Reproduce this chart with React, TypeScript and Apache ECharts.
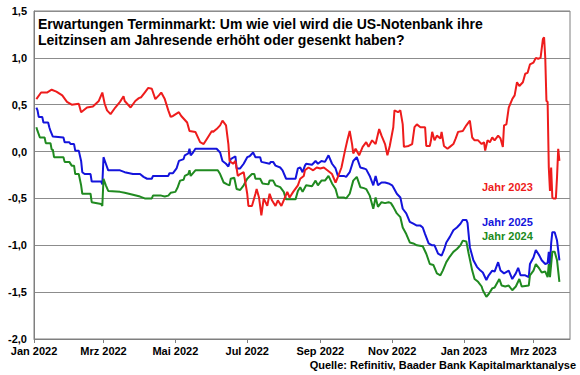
import React, { useEffect, useRef } from "react";
import * as echarts from "echarts";

// [days since 2022-01-01, expected change in percentage points]
const red2023: [number, number][] = [
  [2,0.56],[6,0.63],[11,0.63],[15,0.66],[19,0.64],[24,0.60],[28,0.53],[32,0.50],[38,0.51],[40,0.42],[45,0.47],[50,0.48],[55,0.54],[58,0.63],[60,0.51],[62,0.44],[65,0.40],[69,0.47],[73,0.53],[76,0.59],[77,0.54],[82,0.47],[86,0.54],[89,0.57],[91,0.58],[94,0.63],[97,0.68],[100,0.67],[103,0.56],[106,0.60],[108,0.63],[111,0.56],[114,0.44],[116,0.37],[118,0.38],[123,0.42],[125,0.38],[130,0.31],[132,0.22],[137,0.21],[141,0.10],[144,0.08],[147,0.14],[151,0.22],[152,0.21],[155,0.24],[158,0.28],[160,0.33],[163,0.28],[165,0.08],[166,-0.10],[169,-0.13],[171,-0.10],[173,-0.26],[175,-0.24],[178,-0.22],[181,-0.45],[182,-0.58],[185,-0.58],[188,-0.45],[189,-0.40],[191,-0.49],[193,-0.68],[195,-0.50],[198,-0.58],[200,-0.45],[202,-0.52],[205,-0.58],[207,-0.52],[210,-0.58],[212,-0.52],[215,-0.43],[217,-0.49],[220,-0.43],[224,-0.36],[226,-0.29],[229,-0.26],[230,-0.20],[233,-0.17],[237,-0.20],[240,-0.17],[243,-0.18],[246,-0.17],[249,-0.20],[253,-0.24],[256,-0.33],[258,-0.27],[261,-0.17],[264,0.01],[266,0.12],[268,0.22],[270,0.08],[271,-0.02],[273,0.03],[276,-0.04],[279,0.05],[282,0.10],[284,0.05],[287,0.12],[290,0.08],[293,0.24],[295,0.17],[298,0.08],[300,-0.04],[302,0.06],[305,0.26],[306,0.44],[309,0.42],[311,0.44],[313,0.29],[314,0.05],[318,0.06],[321,0.08],[323,0.26],[325,0.29],[328,0.26],[332,0.26],[333,0.06],[336,0.06],[337,0.12],[338,0.21],[340,0.12],[342,0.17],[345,0.14],[346,0.21],[348,0.06],[351,0.03],[353,0.05],[356,0.08],[358,0.14],[360,0.21],[364,0.22],[367,0.28],[370,0.33],[372,0.15],[374,0.12],[377,0.12],[380,0.08],[382,0.10],[383,0.01],[385,0.12],[387,0.10],[389,0.15],[391,0.12],[394,0.17],[396,0.14],[398,0.05],[399,0.28],[401,0.29],[403,0.47],[406,0.56],[408,0.60],[410,0.74],[412,0.70],[415,0.74],[417,0.83],[419,0.84],[421,0.93],[424,0.95],[426,1.00],[428,0.99],[430,1.00],[432,1.20],[433,1.22],[434,1.00],[435,0.54],[436,0.53],[437,-0.17],[438,-0.42],[439,-0.17],[440,-0.49],[441,-0.50],[443,-0.50],[444,-0.27],[445,0.03],[446,-0.10]
];

const blue2025: [number, number][] = [
  [2,0.47],[3,0.44],[4,0.37],[7,0.37],[8,0.31],[12,0.31],[13,0.26],[14,0.22],[16,0.16],[25,0.15],[26,0.10],[30,0.10],[31,0.08],[34,0.08],[35,0.01],[38,0.01],[40,-0.10],[41,-0.22],[43,-0.24],[48,-0.24],[49,-0.32],[57,-0.32],[58,-0.35],[59,-0.06],[61,-0.13],[63,-0.20],[73,-0.20],[77,-0.22],[84,-0.24],[90,-0.24],[93,-0.27],[96,-0.29],[100,-0.29],[101,-0.26],[114,-0.26],[115,-0.23],[118,-0.23],[121,-0.18],[123,-0.10],[127,-0.08],[128,-0.04],[131,-0.02],[132,0.03],[133,-0.04],[135,-0.01],[137,0.03],[155,0.03],[158,-0.01],[160,-0.10],[163,-0.13],[165,-0.16],[167,-0.08],[171,-0.05],[172,-0.18],[175,-0.18],[178,-0.13],[181,-0.06],[183,-0.05],[186,-0.01],[188,-0.06],[192,-0.06],[193,-0.11],[200,-0.13],[201,-0.11],[203,-0.11],[205,-0.15],[209,-0.17],[211,-0.20],[214,-0.29],[222,-0.29],[224,-0.18],[226,-0.17],[228,-0.22],[230,-0.15],[231,-0.13],[236,-0.14],[239,-0.10],[241,-0.13],[244,-0.10],[247,-0.11],[250,-0.04],[253,-0.13],[256,-0.18],[258,-0.26],[263,-0.26],[265,-0.27],[268,-0.22],[271,-0.10],[274,-0.06],[277,-0.17],[280,-0.18],[282,-0.19],[285,-0.26],[288,-0.36],[290,-0.26],[292,-0.36],[295,-0.33],[298,-0.33],[301,-0.34],[304,-0.36],[305,-0.38],[308,-0.45],[311,-0.49],[313,-0.61],[316,-0.66],[319,-0.75],[322,-0.77],[325,-0.79],[328,-0.79],[330,-0.81],[332,-0.88],[335,-0.98],[338,-1.00],[340,-1.00],[343,-1.09],[346,-1.11],[348,-1.05],[350,-0.97],[353,-0.91],[356,-0.84],[359,-0.81],[362,-0.77],[364,-0.73],[367,-0.73],[368,-0.76],[370,-1.02],[373,-1.16],[376,-1.23],[379,-1.27],[381,-1.29],[384,-1.37],[386,-1.32],[389,-1.27],[391,-1.28],[394,-1.18],[396,-1.27],[399,-1.30],[403,-1.27],[406,-1.36],[409,-1.30],[411,-1.24],[413,-1.32],[417,-1.32],[420,-1.34],[421,-1.20],[424,-1.13],[426,-1.05],[429,-1.11],[431,-1.16],[434,-1.20],[436,-1.19],[437,-1.07],[438,-1.22],[439,-0.98],[440,-0.86],[442,-0.86],[444,-0.95],[446,-1.16]
];

const green2024: [number, number][] = [
  [2,0.26],[3,0.22],[5,0.15],[9,0.15],[10,0.09],[14,0.09],[15,0.02],[16,0.02],[17,-0.06],[25,-0.06],[26,-0.11],[30,-0.11],[32,-0.15],[34,-0.15],[35,-0.24],[38,-0.24],[40,-0.36],[41,-0.45],[48,-0.45],[49,-0.54],[57,-0.56],[58,-0.58],[59,-0.29],[61,-0.36],[63,-0.42],[73,-0.43],[77,-0.44],[84,-0.46],[90,-0.48],[94,-0.50],[100,-0.50],[101,-0.47],[108,-0.47],[111,-0.48],[114,-0.47],[116,-0.44],[120,-0.43],[122,-0.38],[124,-0.31],[127,-0.30],[128,-0.26],[131,-0.24],[132,-0.20],[133,-0.26],[135,-0.23],[137,-0.20],[156,-0.20],[158,-0.24],[161,-0.33],[164,-0.35],[166,-0.36],[167,-0.29],[170,-0.28],[172,-0.40],[175,-0.41],[178,-0.36],[181,-0.29],[185,-0.24],[187,-0.24],[188,-0.29],[192,-0.29],[194,-0.34],[199,-0.35],[200,-0.31],[203,-0.31],[205,-0.36],[209,-0.38],[212,-0.43],[214,-0.51],[222,-0.51],[224,-0.42],[226,-0.38],[228,-0.43],[231,-0.36],[236,-0.37],[239,-0.31],[241,-0.36],[244,-0.31],[247,-0.31],[250,-0.26],[253,-0.34],[256,-0.40],[258,-0.49],[263,-0.49],[265,-0.50],[268,-0.45],[271,-0.31],[274,-0.27],[277,-0.38],[280,-0.39],[282,-0.40],[285,-0.47],[288,-0.61],[290,-0.49],[292,-0.59],[295,-0.54],[298,-0.55],[301,-0.54],[303,-0.55],[305,-0.59],[308,-0.66],[311,-0.70],[313,-0.81],[316,-0.88],[319,-0.97],[322,-0.98],[325,-1.00],[330,-1.01],[333,-1.09],[336,-1.20],[339,-1.21],[342,-1.30],[345,-1.32],[347,-1.27],[350,-1.18],[353,-1.12],[356,-1.07],[359,-1.04],[362,-1.00],[364,-0.95],[367,-0.96],[369,-1.09],[372,-1.27],[374,-1.36],[377,-1.39],[380,-1.44],[381,-1.48],[384,-1.55],[386,-1.52],[389,-1.46],[391,-1.45],[395,-1.36],[397,-1.43],[400,-1.44],[403,-1.43],[406,-1.48],[409,-1.44],[412,-1.36],[414,-1.44],[420,-1.43],[421,-1.32],[424,-1.27],[426,-1.20],[429,-1.25],[431,-1.29],[434,-1.28],[436,-1.34],[437,-1.20],[438,-1.34],[440,-1.07],[442,-1.07],[444,-1.16],[446,-1.39]
];

// x-axis ticks: days since 2022-01-01 and their labels
const xTickDays = [0, 59, 120, 181, 243, 304, 365, 424];
const xTickLabels = ["Jan 2022", "Mrz 2022", "Mai 2022", "Jul 2022", "Sep 2022", "Nov 2022", "Jan 2023", "Mrz 2023"];
const xMaxDay = 455;

const yMin = -2;
const yMax = 1.5;
const yStep = 0.5;

const seriesNames = ["Jahr 2023", "Jahr 2025", "Jahr 2024"];
const titleLines = [
  "Erwartungen Terminmarkt: Um wie viel wird die US-Notenbank ihre",
  "Leitzinsen am Jahresende erhöht oder gesenkt haben?",
];
const sourceText = "Quelle: Refinitiv, Baader Bank Kapitalmarktanalyse";

const RED = "#ee1c1c";
const BLUE = "#1414dc";
const GREEN = "#208a20";
const FONT = "'Liberation Sans', Arial, sans-serif";

export default function App() {
  const ref = useRef<HTMLDivElement>(null);
  useEffect(() => {
    if (!ref.current) return;
    const chart = echarts.init(ref.current, null, { renderer: "svg" });
    const line = (name: string, data: [number, number][], color: string) => ({
      name,
      type: "line",
      data,
      showSymbol: false,
      symbol: "none",
      lineStyle: { color, width: 2 },
      itemStyle: { color },
      z: 3,
    });
    chart.setOption({
      animation: false,
      backgroundColor: "#ffffff",
      textStyle: { fontFamily: FONT },
      title: {
        text: titleLines.join("\n"),
        left: 38,
        top: 16,
        padding: [0, 0, 0, 0],
        textStyle: { fontFamily: FONT, fontSize: 14, fontWeight: "bold", color: "#000", lineHeight: 16 },
      },
      grid: {
        left: 34,
        right: 10,
        top: 11,
        bottom: 36,
        show: true,
        borderColor: "#7f7f7f",
        borderWidth: 1,
        containLabel: false,
      },
      xAxis: {
        type: "value",
        min: 0,
        max: xMaxDay,
        axisLine: { show: true, onZero: false, lineStyle: { color: "#7f7f7f", width: 1 } },
        axisTick: { show: true, customValues: xTickDays, length: 4, lineStyle: { color: "#7f7f7f" } },
        splitLine: { show: false },
        axisLabel: {
          customValues: xTickDays,
          margin: 6,
          fontFamily: FONT,
          fontSize: 11,
          fontWeight: "bold",
          color: "#000",
          formatter: (v: number) => {
            const i = xTickDays.indexOf(Math.round(v));
            return i >= 0 ? xTickLabels[i] : "";
          },
        },
      },
      yAxis: {
        type: "value",
        min: yMin,
        max: yMax,
        interval: yStep,
        axisLine: { show: true, lineStyle: { color: "#7f7f7f", width: 1 } },
        axisTick: { show: false },
        splitLine: { show: true, lineStyle: { color: "#8c8c8c", width: 1 } },
        axisLabel: {
          margin: 7,
          fontFamily: FONT,
          fontSize: 11,
          fontWeight: "bold",
          color: "#000",
          formatter: (v: number) => v.toFixed(1).replace(".", ","),
        },
      },
      series: [
        line(seriesNames[1], blue2025, BLUE),
        line(seriesNames[2], green2024, GREEN),
        line(seriesNames[0], red2023, RED),
      ],
      graphic: [
        {
          type: "text",
          left: 482,
          top: 181,
          style: { text: seriesNames[0], fill: RED, font: `bold 11px ${FONT}` },
        },
        {
          type: "text",
          left: 482,
          top: 216,
          style: { text: seriesNames[1], fill: BLUE, font: `bold 11px ${FONT}` },
        },
        {
          type: "text",
          left: 482,
          top: 230,
          style: { text: seriesNames[2], fill: GREEN, font: `bold 11px ${FONT}` },
        },
        {
          type: "text",
          right: 4,
          top: 359,
          style: { text: sourceText, fill: "#000", font: `bold 11px ${FONT}` },
        },
      ],
    });
    return () => chart.dispose();
  }, []);
  return (
    <div
      ref={ref}
      style={{ position: "fixed", left: 0, top: 0, width: 580, height: 375, background: "#fff" }}
    />
  );
}
